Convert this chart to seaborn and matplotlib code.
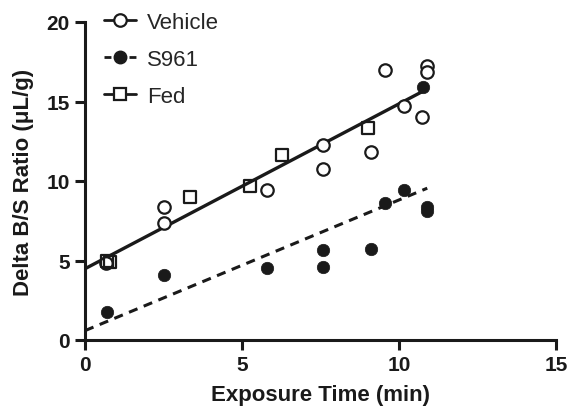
import numpy as np
import pandas as pd
import matplotlib
matplotlib.use("Agg")
import matplotlib.pyplot as plt
from matplotlib.lines import Line2D
import seaborn as sns

# Data
vehicle_x = [0.67, 2.5, 2.5, 5.8, 7.57, 7.57, 9.1, 9.55, 10.16, 10.73, 10.9, 10.9]
vehicle_y = [4.85, 8.35, 7.35, 9.45, 12.25, 10.75, 11.8, 17.0, 14.7, 14.05, 17.25, 16.85]
s961_x = [0.7, 2.5, 5.8, 7.57, 7.57, 9.1, 9.55, 10.16, 10.77, 10.9, 10.9]
s961_y = [1.76, 4.1, 4.5, 5.66, 4.6, 5.75, 8.6, 9.45, 15.9, 8.35, 8.1]
fed_x = [0.7, 0.8, 3.35, 5.25, 6.27, 9.0]
fed_y = [4.95, 4.9, 9.0, 9.7, 11.65, 13.35]

xticks = [0, 5, 10, 15]
yticks = [0, 5, 10, 15, 20]

sns.set_style("ticks")
plt.rcParams['font.family'] = ['Liberation Sans', 'DejaVu Sans']

INK = '#1a1a1a'
fig = plt.figure(figsize=(5.71, 4.10), dpi=100)
ax = fig.add_axes([85/571, 1-341/410, (556-85)/571, (341-23)/410])

ms = 80
lw_m = 1.6
sns.scatterplot(x=vehicle_x, y=vehicle_y, ax=ax, marker='o', s=ms,
                facecolor='white', edgecolor=INK, linewidth=lw_m, zorder=3)
sns.scatterplot(x=fed_x, y=fed_y, ax=ax, marker='s', s=ms*0.95,
                facecolor='none', edgecolor=INK, linewidth=lw_m, zorder=3)
sns.scatterplot(x=s961_x, y=s961_y, ax=ax, marker='o', s=ms,
                color=INK, edgecolor=INK, linewidth=0.5, zorder=3)

# Regression lines
vf_x = np.array(vehicle_x + fed_x)
vf_y = np.array(vehicle_y + fed_y)
p1 = np.polyfit(vf_x, vf_y, 1)
xs1 = np.array([0, vf_x.max()])
ax.plot(xs1, np.polyval(p1, xs1), color=INK, lw=2.4, zorder=2)
sx = np.array(s961_x)
sy = np.array(s961_y)
p2 = np.polyfit(sx, sy, 1)
xs2 = np.array([0, sx.max()])
ax.plot(xs2, np.polyval(p2, xs2), color=INK, lw=2.2, ls=(0, (3, 2.2)), zorder=2)

ax.set_xlim(0, 15)
ax.set_ylim(0, 20)
ax.set_xticks(xticks)
ax.set_yticks(yticks)
sns.despine(ax=ax)
for s in ['left', 'bottom']:
    ax.spines[s].set_linewidth(2.2)
    ax.spines[s].set_color(INK)
ax.tick_params(width=2.2, length=7, color=INK, labelsize=15, pad=4)
for lab in ax.get_xticklabels() + ax.get_yticklabels():
    lab.set_fontweight('bold')
    lab.set_color(INK)

ax.set_xlabel('Exposure Time (min)', fontsize=16, fontweight='bold', color=INK, labelpad=7)
ax.set_ylabel('Delta B/S Ratio (\u03bcL/g)', fontsize=16, fontweight='bold', color=INK, labelpad=9)

handles = [
    Line2D([], [], color=INK, lw=2, marker='o', markersize=9,
           markerfacecolor='white', markeredgewidth=1.6),
    Line2D([], [], color=INK, lw=2, ls=(0, (2.5, 2)), marker='o', markersize=9,
           markerfacecolor=INK),
    Line2D([], [], color=INK, lw=2, marker='s', markersize=9,
           markerfacecolor='white', markeredgewidth=1.6),
]
ax.legend(handles, ['Vehicle', 'S961', 'Fed'], loc='upper left',
          bbox_to_anchor=(-0.003, 1.095), frameon=False, fontsize=16,
          handlelength=1.45, labelspacing=0.72, handletextpad=0.5)

fig.savefig('out.png', dpi=100)
